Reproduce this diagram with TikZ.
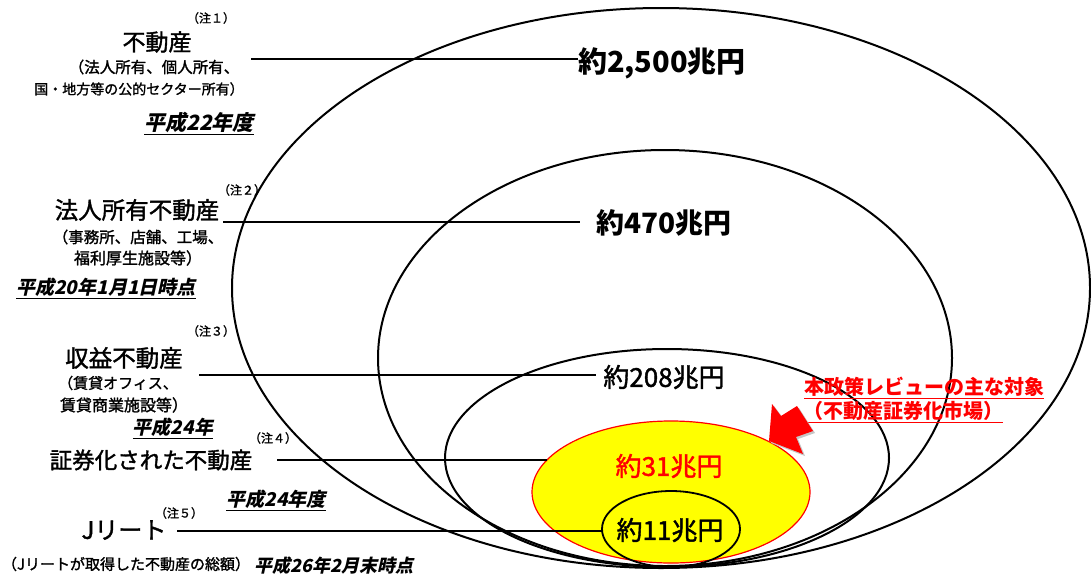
\documentclass[tikz,border=0pt]{standalone}
\usepackage{fontspec}
\setmainfont{Noto Sans CJK JP}
\newfontfamily\jpm{Noto Sans CJK JP}[FakeBold=1.5]
\newfontfamily\jpbi{Noto Sans CJK JP}[BoldFeatures={FakeSlant=0.22}]
\usetikzlibrary{shapes.geometric}
\newcommand\fsz[1]{\fontsize{#1}{#1}\selectfont}
\definecolor{redc}{HTML}{FF0000}
\definecolor{yel}{HTML}{FFFF00}
\begin{document}
\begin{tikzpicture}[x=1pt,y=-1pt,
  egg/.style={ellipse, draw=black, line width=2pt, inner sep=0pt},
  leader/.style={draw=black, line width=1.6pt},
  txt/.style={inner sep=0pt, text=black},
  rtxt/.style={txt, font=\fsz{#1}\jpm},
  notetxt/.style={txt, font=\fsz{12}\jpm},
  yeartxt/.style={txt, font=\fsz{#1}\jpbi\bfseries},
  redtxt/.style={inner sep=0pt, text=redc, font=\fsz{20}\bfseries}
]
\fill[white] (0,0) rectangle (1091,573);
\useasboundingbox (0,0) rectangle (1091,573);

% shapes
\node[ellipse, fill=yel, draw=redc, line width=1.2pt, inner sep=0pt, minimum width=278pt, minimum height=142pt] (ey) at (671,492) {};
\node[egg, minimum width=858pt, minimum height=560pt] (e1) at (661,288) {};
\node[egg, minimum width=574pt, minimum height=416pt] (e2) at (665,358) {};
\node[egg, minimum width=444pt, minimum height=218pt] (e3) at (667,458) {};
\node[egg, line width=1.8pt, minimum width=138pt, minimum height=76pt] (es) at (671,529) {};

% values
\node[txt, font=\fsz{29}\bfseries] (v1) at (662,63) {約2,500兆円};
\node[txt, font=\fsz{28}\bfseries] (v2) at (664,223) {約470兆円};
\node[rtxt=26] (v3) at (664,377) {約208兆円};
\node[rtxt=26, text=redc] (v4) at (669,466) {約31兆円};
\node[rtxt=26] (v5) at (670,530) {約11兆円};

% left labels
\node[notetxt] (n1note) at (211,18) {（注１）};
\node[rtxt=23] (n1) at (157,42) {不動産};
\node[rtxt=15.5] (n1a) at (154,67) {（法人所有、個人所有、};
\node[rtxt=14] (n1b) at (139,89) {国・地方等の公的セクター所有）};
\node[yeartxt=21] (n1y) at (199,123) {\underline{平成22年度}};

\node[notetxt] (n2note) at (242,190) {（注２）};
\node[rtxt=23.5] (n2) at (137,210) {法人所有不動産};
\node[rtxt=15.5] (n2a) at (138,237) {（事務所、店舗、工場、};
\node[rtxt=16] (n2b) at (138,258) {福利厚生施設等）};
\node[yeartxt=19] (n2y) at (106,288) {\underline{平成20年1月1日時点}};

\node[notetxt] (n3note) at (211,331) {（注３）};
\node[rtxt=23.5] (n3) at (124,358) {収益不動産};
\node[rtxt=15] (n3a) at (118,383) {（賃貸オフィス、};
\node[rtxt=16] (n3b) at (124,405) {賃貸商業施設等）};
\node[yeartxt=19] (n3y) at (173,428) {\underline{平成24年}};

\node[notetxt] (n4note) at (273,438) {（注４）};
\node[rtxt=22.5] (n4) at (151,460) {証券化された不動産};
\node[yeartxt=19] (n4y) at (276,500) {\underline{平成24年度}};

\node[notetxt] (n5note) at (179,513) {（注５）};
\node[rtxt=24] (n5) at (124,530) {Jリート};
\node[rtxt=15] (n5a) at (126,564) {（Jリートが取得した不動産の総額）};
\node[yeartxt=18] (n5y) at (334,566) {平成26年2月末時点};

% red label
\node[redtxt] (r1) at (924,388) {\underline{本政策レビューの主な対象}};
\node[redtxt, anchor=west] (r2) at (803,412) {\underline{（不動産証券化市場）}};

% leader lines
\coordinate (a1) at (251,59);  \coordinate (b1) at (578,59);
\coordinate (a2) at (223,222); \coordinate (b2) at (580,222);
\coordinate (a3) at (199,375); \coordinate (b3) at (596,375);
\coordinate (a4) at (277,460); \coordinate (b4) at (547,460);
\coordinate (a5) at (177,531); \coordinate (b5) at (602,531);
\draw[leader] (a1) -- (b1);
\draw[leader] (a2) -- (b2);
\draw[leader] (a3) -- (b3);
\draw[leader] (a4) -- (b4);
\draw[leader] (a5) -- (b5);

% red arrow
\fill[gray!45, shift={(2,2)}] (769,441) -- (772,404) -- (781,416) -- (797,406) -- (813,431) -- (796,437) -- (803,454) -- cycle;
\fill[redc] (769,441) -- (772,404) -- (781,416) -- (797,406) -- (813,431) -- (796,437) -- (803,454) -- cycle;
\end{tikzpicture}
\end{document}
